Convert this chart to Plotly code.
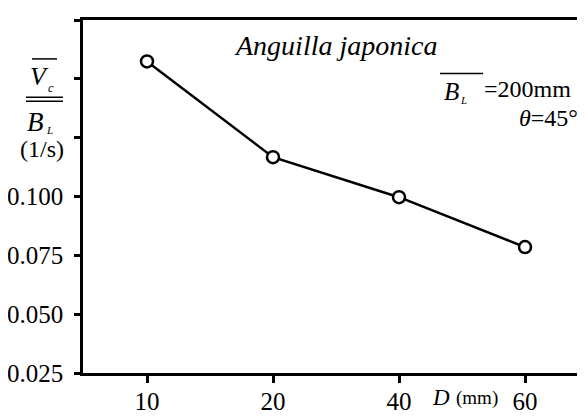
import plotly.graph_objects as go

categories = ["10", "20", "40", "60"]
values = [0.1574, 0.1167, 0.0997, 0.0785]
y_tickvals = [0.025, 0.050, 0.075, 0.100, 0.125, 0.150, 0.175]
y_ticktext = ["0.025", "0.050", "0.075", "0.100", "", "", "0.175"]

# page body has an 8px default margin; work in reference pixel coords
OFF = 8
W, H = 585 - OFF, 416 - OFF
L, R, T, B = 83, 585, 19.5, 373.3   # plot area in reference pixels
FONT = "Liberation Serif"

def px(x):
    return (x - L) / (R - L)

def py(y):
    return (B - y) / (B - T)

xpos = list(range(len(categories)))

fig = go.Figure()
fig.add_trace(go.Scatter(
    x=xpos, y=values, mode="lines+markers",
    line=dict(color="black", width=2.5),
    marker=dict(symbol="circle", size=12, color="white",
                line=dict(color="black", width=2.5)),
    showlegend=False, cliponaxis=False,
))

fig.update_layout(
    width=W, height=H,
    margin=dict(l=L - OFF, r=585 - R, t=T - OFF, b=416 - B, pad=0, autoexpand=False),
    paper_bgcolor="white", plot_bgcolor="white",
    font=dict(family=FONT, color="black", size=25),
    xaxis=dict(range=[-0.508, 3.476], tickmode="array", tickvals=xpos,
               ticktext=categories, ticks="outside", ticklen=7, tickwidth=2.5,
               tickcolor="black", showline=True, linecolor="black", linewidth=2.5,
               mirror=True, showgrid=False, zeroline=False, automargin=False,
               ticklabelstandoff=-3,
               tickfont=dict(size=25, family=FONT)),
    yaxis=dict(range=[0.025, 0.175], tickmode="array", tickvals=y_tickvals,
               ticktext=y_ticktext, ticks="outside", ticklen=6, tickwidth=2.5,
               tickcolor="black", showline=True, linecolor="black", linewidth=2.5,
               showgrid=False, zeroline=False, automargin=False,
               ticklabelstandoff=6,
               tickfont=dict(size=25, family=FONT)),
)

def ann(x, y, text, size, xanchor="center", yanchor="middle"):
    fig.add_annotation(xref="paper", yref="paper", x=px(x), y=py(y), text=text,
                       showarrow=False, xanchor=xanchor, yanchor=yanchor,
                       font=dict(size=size, family=FONT, color="black"))

def hline(x0, x1, y, w=1.5):
    fig.add_shape(type="line", xref="paper", yref="paper",
                  x0=px(x0), x1=px(x1), y0=py(y), y1=py(y),
                  line=dict(color="black", width=w))

# y-axis title
hline(32, 57, 58.5)
ann(39, 76, "<i>V</i>", 26)
ann(51, 88, "<i>c</i>", 12)
hline(26, 63, 97)
hline(26, 63, 101)
ann(35, 122, "<i>B</i>", 27)
ann(49, 130, "<i>L</i>", 11)
ann(42, 149, "(1/s)", 24)

# in-plot annotations
ann(335, 45, "<i>Anguilla japonica</i>", 28)
hline(440, 483, 73)
ann(451, 91, "<i>B</i>", 25)
ann(463, 100, "<i>L</i>", 11)
ann(482, 89, "=200mm", 24, xanchor="left")
ann(580, 118, "<i>θ</i>=45°", 24, xanchor="right")

# x-axis title
ann(452, 398, "<i>D</i>", 23, xanchor="right")
ann(454, 398, "(mm)", 19, xanchor="left")

fig.write_html("out.html")
